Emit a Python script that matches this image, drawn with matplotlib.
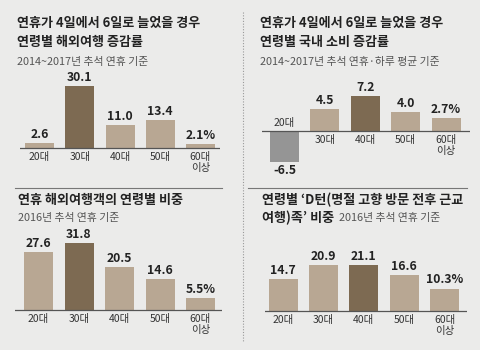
import matplotlib
matplotlib.use("Agg")
import matplotlib.pyplot as plt
from matplotlib.lines import Line2D

plt.rcParams['font.family'] = ['Noto Sans CJK KR', 'DejaVu Sans']

# ---- data ----
ages = ['20대', '30대', '40대', '50대', '60대\n이상']

p1_title = ['연휴가 4일에서 6일로 늘었을 경우', '연령별 해외여행 증감률']
p1_sub = '2014~2017년 추석 연휴 기준'
p1_vals = [2.6, 30.1, 11.0, 13.4, 2.1]
p1_labels = ['2.6', '30.1', '11.0', '13.4', '2.1%']

p2_title = ['연휴가 4일에서 6일로 늘었을 경우', '연령별 국내 소비 증감률']
p2_sub = '2014~2017년 추석 연휴·하루 평균 기준'
p2_vals = [-6.5, 4.5, 7.2, 4.0, 2.7]
p2_labels = ['-6.5', '4.5', '7.2', '4.0', '2.7%']

p3_title = ['연휴 해외여행객의 연령별 비중']
p3_sub = '2016년 추석 연휴 기준'
p3_vals = [27.6, 31.8, 20.5, 14.6, 5.5]
p3_labels = ['27.6', '31.8', '20.5', '14.6', '5.5%']

p4_title = ['연령별 ‘D턴(명절 고향 방문 전후 근교', '여행)족’ 비중']
p4_sub = '2016년 추석 연휴 기준'
p4_vals = [14.7, 20.9, 21.1, 16.6, 10.3]
p4_labels = ['14.7', '20.9', '21.1', '16.6', '10.3%']

BG = '#ebebea'
LIGHT = '#b8a793'
DARK = '#7d6a52'
GRAY = '#959595'
TXT = '#222222'
SUB = '#555555'

W, H = 480, 350
fig = plt.figure(figsize=(W / 100, H / 100), dpi=100, facecolor=BG)


def panel(vals, labels, colors, xl, xr, base, ppu, c0, step, top, bot,
          above_idx=None):
    ax = fig.add_axes([xl / W, 1 - bot / H, (xr - xl) / W, (bot - top) / H])
    ax.set_facecolor('none')
    ax.set_xlim((xl - c0) / step, (xr - c0) / step)
    ax.set_ylim(-(bot - base) / ppu, (base - top) / ppu)
    x = list(range(len(vals)))
    ax.bar(x, vals, width=29 / step, color=colors, zorder=2)
    ax.axhline(0, color='#555555', lw=0.9, zorder=3)
    for i, (v, lab) in enumerate(zip(vals, labels)):
        if v >= 0:
            ax.annotate(lab, (i, v), xytext=(0, 1.5), textcoords='offset points',
                        ha='center', va='bottom', fontsize=8.8,
                        fontweight='bold', color=TXT)
        else:
            ax.annotate(lab, (i, v), xytext=(0, -1), textcoords='offset points',
                        ha='center', va='top', fontsize=8.8,
                        fontweight='bold', color=TXT)
    for i, a in enumerate(ages):
        if i == above_idx:
            ax.annotate(a, (i, 0), xytext=(0, 2), textcoords='offset points',
                        ha='center', va='bottom', fontsize=7.5, color='#333333')
        else:
            ax.annotate(a, (i, 0), xytext=(0, -3), textcoords='offset points',
                        ha='center', va='top', fontsize=7.5, color='#333333',
                        linespacing=1.1)
    ax.set_xticks([])
    ax.set_yticks([])
    for s in ax.spines.values():
        s.set_visible(False)
    return ax


# panel 1
panel(p1_vals, p1_labels, [LIGHT, DARK, LIGHT, LIGHT, LIGHT],
      20, 220, 148, 2.06, 39.5, 40.25, 76, 150)
# panel 2
panel(p2_vals, p2_labels, [GRAY, LIGHT, DARK, LIGHT, LIGHT],
      262, 470, 131, 4.8, 284.5, 40.4, 86, 165, above_idx=0)
# panel 3
panel(p3_vals, p3_labels, [LIGHT, DARK, LIGHT, LIGHT, LIGHT],
      15, 222, 310, 2.1, 38.5, 40.5, 230, 312)
# panel 4
panel(p4_vals, p4_labels, [LIGHT, LIGHT, DARK, LIGHT, LIGHT],
      265, 467, 311, 2.18, 283, 40.4, 250, 313)


def ftext(xp, yp, s, **kw):
    fig.text(xp / W, 1 - yp / H, s, **kw)


tkw = dict(fontsize=9.4, fontweight='bold', color=TXT, va='center', ha='left')
skw = dict(fontsize=7.8, color=SUB, va='center', ha='left')

ftext(17, 23, p1_title[0], **tkw)
ftext(17, 42, p1_title[1], **tkw)
ftext(17, 62, p1_sub, **skw)
ftext(260, 23, p2_title[0], **tkw)
ftext(260, 42, p2_title[1], **tkw)
ftext(260, 62, p2_sub, **skw)
ftext(18, 200, p3_title[0], **tkw)
ftext(18, 218, p3_sub, **skw)
ftext(262, 200, p4_title[0], **tkw)
ftext(262, 218, p4_title[1], **tkw)
ftext(339, 218, p4_sub, **skw)

# separators
fig.add_artist(Line2D([15 / W, 222 / W], [1 - 188 / H, 1 - 188 / H],
                      color='#777777', lw=0.8))
fig.add_artist(Line2D([248 / W, 467 / W], [1 - 188 / H, 1 - 188 / H],
                      color='#777777', lw=0.8))
fig.add_artist(Line2D([243 / W, 243 / W], [1 - 12 / H, 1 - 342 / H],
                      color='#999999', lw=0.8, linestyle=(0, (1, 1.5))))

fig.savefig('out.png', dpi=100, facecolor=BG)
